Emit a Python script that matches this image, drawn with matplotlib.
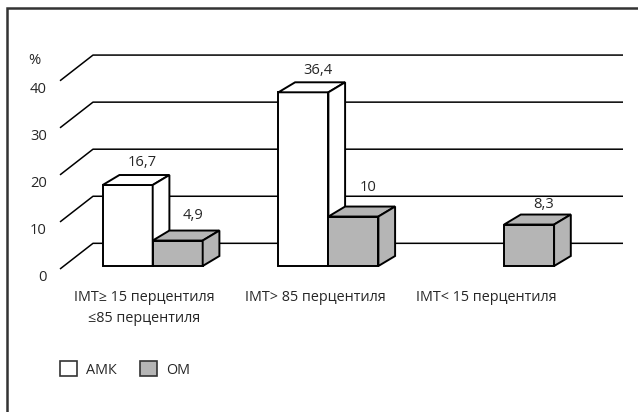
import matplotlib.pyplot as plt
from matplotlib.patches import Polygon, Patch, Rectangle

# --- data ---
categories = ['IMT≥ 15 перцентиля\n≤85 перцентиля', 'IMT> 85 перцентиля', 'IMT< 15 перцентиля']
series_names = ['АМК', 'ОМ']
amk_values = [16.7, 36.4, 0]
om_values = [4.9, 10, 8.3]
value_labels = ['16,7', '36,4', '', '4,9', '10', '8,3']
y_ticks = [0, 10, 20, 30, 40]

# --- layout (pixel geometry of the original picture) ---
W, H = 638, 412
PX_CAT = 175.7      # pixels per category
X0_PX = 152.7       # centre of category 0
PX_VAL = 4.706      # pixels per percent
Y0_PX = 263.6       # zero level of the bar front plane


def cx(px):
    return (px - X0_PX) / PX_CAT


def vy(py):
    return (Y0_PX - py) / PX_VAL


bar_w = 50 / PX_CAT
depth_x = 16.7 / PX_CAT
depth_y = 10 / PX_VAL
bar_base = vy(266)
colors = ['white', '#b5b5b5']
# how far above the back edge of each top face the value label sits (px)
label_lift = [13, 12, 0, 15.5, 19, 10.5]

plt.rcParams['font.family'] = ['Open Sans', 'DejaVu Sans']
text_color = '#262626'
fs = 10.6

fig = plt.figure(figsize=(W / 100, H / 100), dpi=100)
ax = fig.add_axes([0, 0, 1, 1])
ax.set_xlim(cx(0), cx(W))
ax.set_ylim(vy(H), vy(0))
ax.axis('off')

# perspective gridlines: short diagonal on the left, long line on the back wall
front_x, back_x, end_x = cx(60), cx(93), cx(623)
for t in y_ticks:
    f = t - 1.15
    b = t + 4.31
    ax.plot([front_x, back_x, end_x], [f, b, b], color='black', lw=1.1, zorder=1,
            solid_capstyle='butt')
    ax.text(cx(47), t - 2.95, str(t), ha='right', va='center', fontsize=fs, color=text_color)
ax.text(cx(28), vy(60), '%', ha='left', va='center', fontsize=fs, color=text_color)


def draw_box(x0, x1, top, color, z):
    b = bar_base
    faces = [
        [(x0, b), (x1, b), (x1, top), (x0, top)],
        [(x0, top), (x1, top), (x1 + depth_x, top + depth_y), (x0 + depth_x, top + depth_y)],
        [(x1, b), (x1 + depth_x, b + depth_y), (x1 + depth_x, top + depth_y), (x1, top)],
    ]
    for pts in faces:
        ax.add_patch(Polygon(pts, closed=True, facecolor=color, edgecolor='black',
                             lw=1.4, joinstyle='miter', zorder=z))


all_series = [amk_values, om_values]
for i in range(len(categories)):
    for s, vals in enumerate(all_series):
        v = vals[i]
        x0 = i - bar_w + s * bar_w
        x1 = x0 + bar_w
        if v <= 0:
            continue
        draw_box(x0, x1, v, colors[s], 2 + i * 2 + s)
        k = s * len(categories) + i
        ax.text((x0 + x1) / 2 + 15 / PX_CAT, v + depth_y + label_lift[k] / PX_VAL,
                value_labels[k], ha='center', va='center', fontsize=fs, color=text_color,
                zorder=20)

# category labels sit on the front plane, slightly left of the bars
for i, lab in enumerate(categories):
    ax.text(cx(144 + 171 * i), vy(290), lab, ha='center', va='top', fontsize=10.4,
            color=text_color, linespacing=1.5, multialignment='center')

# legend
handles = [Patch(facecolor=colors[0], edgecolor='#333333', lw=1.2),
           Patch(facecolor=colors[1], edgecolor='#333333', lw=1.2)]
leg = ax.legend(handles, series_names, ncol=2, frameon=False, loc='center left',
                bbox_to_anchor=(60 / W, 1 - 369.5 / H), bbox_transform=fig.transFigure,
                fontsize=10.4, handlelength=1.2, handleheight=1.2, handletextpad=0.6,
                columnspacing=1.6, borderpad=0, borderaxespad=0)
for t in leg.get_texts():
    t.set_color(text_color)

# outer frame (only left and top edges are inside the picture)
fig.patches.append(Rectangle((6.5 / W, -0.2), 1.5, 1.2 - 8 / H, transform=fig.transFigure,
                             facecolor='none', edgecolor='#333333', lw=1.8))

fig.savefig('out.png', dpi=100)
